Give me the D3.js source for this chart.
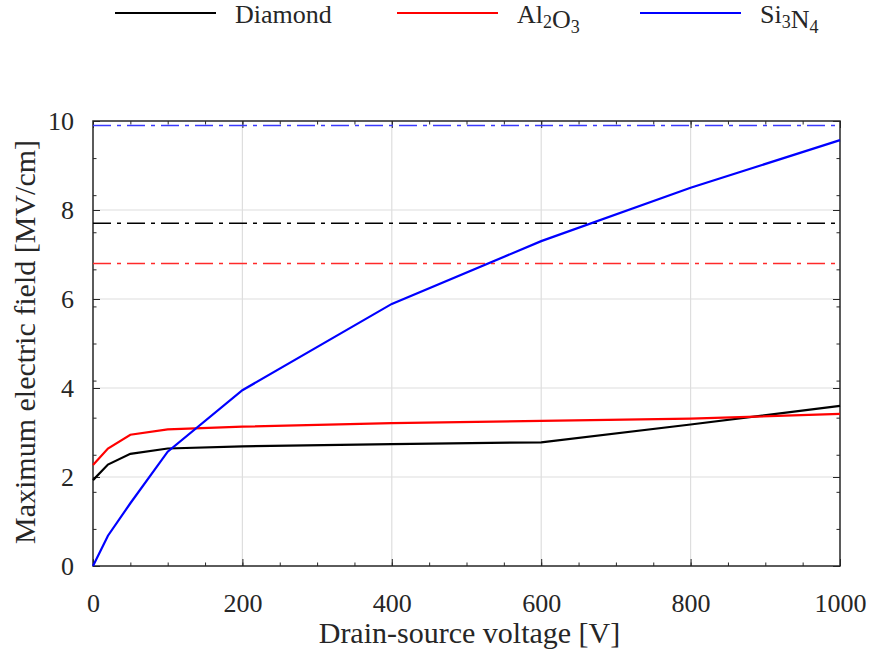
<!DOCTYPE html>
<html>
<head>
<meta charset="utf-8">
<script src="https://cdn.jsdelivr.net/npm/d3@7"></script>
<style>
  body { margin: 0; background: #ffffff; }
  svg text { font-family: 'Liberation Serif', 'Times New Roman', Times, 'DejaVu Serif', serif; }
</style>
</head>
<body>
<div id="chart"></div>
<script>
var w = 871;
var h = 651;
var serif = "Liberation Serif, Times New Roman, Times, DejaVu Serif, serif";

// values
var voltage = [0, 20, 50, 100, 200, 400, 600, 800, 1000];
var diamond = [1.93, 2.28, 2.52, 2.64, 2.69, 2.74, 2.78, 3.18, 3.60];
var al2o3 = [2.27, 2.64, 2.95, 3.07, 3.13, 3.21, 3.26, 3.31, 3.42];
var si3n4 = [0, 0.68, 1.41, 2.57, 3.95, 5.89, 7.30, 8.50, 9.57];

// critical (breakdown) fields, dash-dot lines
var critDiamond = 7.7;
var critAl2o3 = 6.8;
var critSi3n4 = 9.9;

var xTicks = [0, 200, 400, 600, 800, 1000];
var yTicks = [0, 2, 4, 6, 8, 10];

var plot = { left: 93, right: 840, top: 121, bottom: 566 };

var svg = d3.select('#chart')
  .append('svg')
    .attr('width', w)
    .attr('height', h)
    .attr('font-family', serif);

var x = d3.scaleLinear().domain([0, 1000]).range([plot.left, plot.right]);
var y = d3.scaleLinear().domain([0, 10]).range([plot.bottom, plot.top]);

// grid
svg.append('g')
  .selectAll('line')
  .data(xTicks.slice(1, -1))
  .enter()
  .append('line')
    .attr('x1', function(d) { return x(d); })
    .attr('x2', function(d) { return x(d); })
    .attr('y1', plot.top)
    .attr('y2', plot.bottom)
    .style('stroke', '#dedede')
    .style('stroke-width', 1.2);
svg.append('g')
  .selectAll('line')
  .data(yTicks.slice(1, -1))
  .enter()
  .append('line')
    .attr('x1', plot.left)
    .attr('x2', plot.right)
    .attr('y1', function(d) { return y(d); })
    .attr('y2', function(d) { return y(d); })
    .style('stroke', '#dedede')
    .style('stroke-width', 1.2);

// axes: ticks point inward on all four sides
var xMinor = d3.range(0, 1001, 50);
var yMinor = d3.range(0, 10, 10 / 12);

function addAxis(axisFn, scale, ticks, minor, transform, size, labels) {
  var g = svg.append('g').attr('transform', transform);
  g.call(axisFn(scale).tickValues(minor).tickSize(size / 2).tickFormat(''));
  var major = svg.append('g').attr('transform', transform);
  major.call(axisFn(scale).tickValues(ticks).tickSize(size).tickPadding(labels ? -size + 12 : 0)
    .tickFormat(labels ? d3.format('d') : ''));
  [g, major].forEach(function(s) {
    s.attr('font-family', serif).attr('font-size', 26);
    s.select('.domain').remove();
    s.selectAll('line').style('stroke', '#262626').style('stroke-width', 1);
  });
  major.selectAll('text')
    .style('font-size', '26px')
    .style('fill', '#262626');
  return major;
}

addAxis(d3.axisBottom, x, xTicks, xMinor, 'translate(0,' + plot.bottom + ')', -7, true)
  .selectAll('text').attr('dy', '1.05em');
addAxis(d3.axisTop, x, xTicks, xMinor, 'translate(0,' + plot.top + ')', -7, false);
addAxis(d3.axisLeft, y, yTicks, yMinor, 'translate(' + plot.left + ',0)', -7, true);
addAxis(d3.axisRight, y, yTicks, yMinor, 'translate(' + plot.right + ',0)', -7, false);

// box
svg.append('rect')
  .attr('x', plot.left)
  .attr('y', plot.top)
  .attr('width', plot.right - plot.left)
  .attr('height', plot.bottom - plot.top)
  .style('fill', 'none')
  .style('stroke', '#262626')
  .style('stroke-width', 1.5);

// critical field lines
var crit = [
  { v: critSi3n4, color: '#3a3aff' },
  { v: critDiamond, color: '#000000' },
  { v: critAl2o3, color: '#ff2a2a' }
];
svg.append('g')
  .selectAll('line')
  .data(crit)
  .enter()
  .append('line')
    .attr('x1', plot.left)
    .attr('x2', plot.right)
    .attr('y1', function(d) { return y(d.v); })
    .attr('y2', function(d) { return y(d.v); })
    .style('stroke', function(d) { return d.color; })
    .style('stroke-width', 1.5)
    .style('stroke-dasharray', '18,6,4,6');

// data lines
var series = [
  { name: 'Diamond', values: diamond, color: '#000000' },
  { name: 'Al2O3', values: al2o3, color: '#ff0000' },
  { name: 'Si3N4', values: si3n4, color: '#0000ff' }
];

var line = d3.line()
  .x(function(d, i) { return x(voltage[i]); })
  .y(function(d) { return y(d); });

svg.append('g')
  .selectAll('path')
  .data(series)
  .enter()
  .append('path')
    .attr('d', function(d) { return line(d.values); })
    .style('fill', 'none')
    .style('stroke', function(d) { return d.color; })
    .style('stroke-width', 2.2);

// axis titles
svg.append('text')
  .attr('x', (plot.left + plot.right) / 2 + 3)
  .attr('y', 643)
  .attr('text-anchor', 'middle')
  .style('font-size', '30px')
  .style('fill', '#262626')
  .text('Drain-source voltage [V]');

svg.append('text')
  .attr('transform', 'translate(35,' + 342 + ') rotate(-90)')
  .attr('text-anchor', 'middle')
  .style('font-size', '30px')
  .style('fill', '#262626')
  .text('Maximum electric field [MV/cm]');

// legend
var legendPos = [115, 397, 640];
var legend = svg.append('g')
  .selectAll('g')
  .data(series)
  .enter()
  .append('g')
    .attr('transform', function(d, i) { return 'translate(' + legendPos[i] + ',0)'; });

legend.append('line')
  .attr('x1', 0)
  .attr('x2', 101)
  .attr('y1', 13)
  .attr('y2', 13)
  .style('stroke', function(d) { return d.color; })
  .style('stroke-width', 2.2);

var legendText = legend.append('text')
  .attr('x', 120)
  .attr('y', 23)
  .style('font-size', '26px')
  .style('fill', '#262626');

legendText.each(function(d) {
  var t = d3.select(this);
  // split chemical formula into letters and subscript digits
  var parts = d.name.match(/[A-Za-z]+|\d+/g);
  parts.forEach(function(p) {
    if (/\d/.test(p)) {
      t.append('tspan').attr('dy', 5).style('font-size', '18px').text(p);
      t.append('tspan').attr('dy', -5).text('');
    } else {
      t.append('tspan').text(p);
    }
  });
});
</script>
</body>
</html>
